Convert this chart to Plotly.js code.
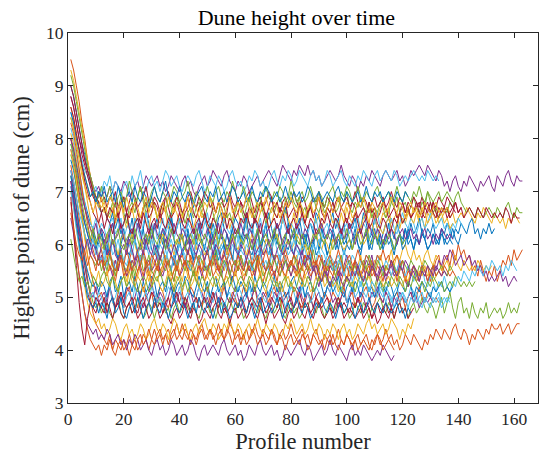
<!DOCTYPE html>
<html>
<head>
<meta charset="utf-8">
<script src="https://cdn.plot.ly/plotly-3.0.1.min.js"></script>
<style>html,body{margin:0;padding:0;background:#fff;}#chart{width:539px;height:457px;}</style>
</head>
<body>
<div id="chart"></div>
<script>
// Highest point of dune (cm) for each run, indexed by profile number 1..N
const h00=[9.0,8.8,8.5,8.2,7.9,7.7,7.4,7.2,7.0,6.9,6.7,6.6,6.7,6.5,6.4,6.6,6.3,6.5,6.2,6.4,6.6,6.3,6.1,6.4,6.5,6.2,6.3,6.6,6.4,6.1,6.3,6.5,6.2,6.0,6.3,6.4,6.6,6.2,6.3,6.5,6.1,6.2,6.4,6.6,6.3,6.0,6.2,6.4,6.5,6.3,6.1,6.4,6.2,6.5,6.6,6.3,6.2,6.0,6.3,6.5,6.4,6.1,6.3,6.6,6.4,6.2,6.5,6.3,6.0,6.2,6.4,6.6,6.3,6.1,6.4,6.2,6.5,6.7,6.4,6.3,6.1,6.3,6.5,6.2,6.0,6.3,6.4,6.2,6.6,6.5,6.3,6.1,6.2,6.4,6.6,6.3,6.5,6.2,6.0,6.1,6.4,6.3,6.5,6.2,6.3,6.6,6.4,6.1,6.2,6.5,6.3,6.0,6.2,6.4,6.5,6.3,6.1,6.4,6.2,6.0,6.3,6.1,6.4,6.2,6.3,6.5,6.2,6.1,6.3,6.2,6.4,6.1,6.0,6.3,6.2,6.4,6.3,6.1,6.3,6.2,6.4,6.3,6.2,6.4,6.5,6.2,6.3,6.1,6.3,6.2,6.4,6.2,6.3];
const h01=[9.5,9.3,9.0,8.7,8.3,8.0,7.6,7.3,7.0,6.7,6.4,6.2,6.0,5.9,5.8,5.6,5.7,5.5,5.8,5.6,5.4,5.7,5.9,5.6,5.5,5.7,5.8,5.6,5.4,5.6,5.9,5.7,5.5,5.6,5.8,5.7,5.5,5.3,5.6,5.8,5.6,5.7,5.5,5.8,5.6,5.4,5.7,5.9,5.6,5.5,5.7,5.6,5.8,5.5,5.7,5.9,5.6,5.4,5.6,5.7,5.5,5.8,5.6,5.7,5.5,5.6,5.8,5.6,5.4,5.7,5.5,5.6,5.9,5.7,5.6,5.4,5.6,5.8,5.5,5.7,5.6,5.4,5.7,5.5,5.8,5.6,5.5,5.7,5.4,5.6,5.8,5.5,5.3,5.6,5.5,5.7,5.4,5.6,5.5,5.3,5.6,5.4,5.7,5.5,5.4,5.6,5.3,5.5,5.7,5.4,5.6,5.5,5.3,5.6,5.5,5.4,5.6,5.3,5.5,5.7,5.4,5.2,5.5,5.6,5.4,5.3,5.5,5.4,5.6,5.3,5.5,5.7,5.8,5.5,5.7,5.8,5.6,5.9,5.7,6.0,5.8,5.9,5.7,5.8,5.5,5.6,5.4,5.7,5.5,5.3,5.5,5.4,5.6,5.3,5.5,5.7,5.6,5.8,5.6,5.9,5.7,5.8,5.9];
const h02=[9.3,9.1,8.8,8.5,8.2,7.9,7.6,7.3,7.1,6.9,6.8,6.7,6.8,6.6,6.5,6.7,6.4,6.6,6.8,6.5,6.3,6.6,6.7,6.4,6.6,6.5,6.7,6.4,6.3,6.6,6.8,6.5,6.4,6.7,6.6,6.3,6.5,6.7,6.6,6.4,6.5,6.8,6.6,6.4,6.3,6.5,6.7,6.5,6.6,6.4,6.2,6.5,6.6,6.8,6.5,6.4,6.6,6.3,6.5,6.7,6.6,6.4,6.5,6.3,6.6,6.7,6.5,6.4,6.6,6.8,6.5,6.3,6.4,6.6,6.5,6.7,6.4,6.6,6.5,6.3,6.6,6.4,6.7,6.5,6.4,6.6,6.8,6.5,6.4,6.6,6.3,6.5,6.7,6.6,6.4,6.5,6.3,6.6,6.4,6.7,6.5,6.4,6.6,6.5,6.3,6.5,6.6,6.4,6.7,6.5,6.3,6.4,6.6,6.5,6.7,6.4,6.5,6.6,6.3,6.5,6.4,6.6,6.5,6.7,6.6,6.4,6.5,6.3,6.6,6.5,6.7,6.6,6.4,6.5,6.6,6.7,6.5,6.6,6.4,6.5,6.6,6.5,6.7,6.6,6.5,6.4,6.6,6.5,6.7,6.6,6.5,6.4,6.6,6.5,6.4,6.5,6.3,6.5,6.4,6.6,6.5,6.4];
const h03=[8.8,8.6,8.3,8.0,7.8,7.6,7.4,7.3,7.1,7.0,7.1,6.9,7.0,6.9,7.1,7.0,7.2,7.1,7.0,7.2,7.1,6.9,7.0,7.1,7.2,7.0,7.1,7.3,7.2,7.1,7.2,7.3,7.1,7.2,7.0,7.1,7.3,7.2,7.1,7.0,7.2,7.3,7.1,7.2,7.0,6.9,7.1,7.2,7.3,7.1,7.2,7.4,7.3,7.2,7.1,7.3,7.4,7.2,7.1,7.0,7.2,7.1,7.3,7.2,7.0,7.1,7.2,7.3,7.1,7.2,7.3,7.4,7.3,7.2,7.1,7.3,7.5,7.4,7.3,7.2,7.4,7.3,7.5,7.4,7.3,7.5,7.3,7.4,7.2,7.3,7.1,7.2,7.3,7.4,7.3,7.2,7.3,7.5,7.3,7.2,7.1,7.3,7.2,7.0,7.2,7.1,7.3,7.2,7.4,7.3,7.2,7.1,7.3,7.4,7.3,7.2,7.3,7.4,7.2,7.3,7.1,7.2,7.4,7.3,7.4,7.5,7.4,7.3,7.5,7.4,7.3,7.2,7.4,7.3,7.1,7.2,7.0,7.2,7.3,7.1,7.0,7.2,7.1,7.3,7.2,7.1,7.0,7.2,7.1,7.2,7.3,7.1,7.0,7.3,7.2,7.1,7.3,7.4,7.2,7.1,7.3,7.2,7.2];
const h04=[9.2,9.0,8.7,8.4,8.1,7.8,7.5,7.3,7.1,6.9,6.8,6.6,6.7,6.5,6.6,6.8,6.5,6.7,6.9,6.6,6.4,6.7,6.8,6.6,6.9,7.1,6.8,6.6,6.7,6.9,6.7,6.5,6.6,6.8,6.7,6.5,6.6,6.8,6.9,6.7,6.6,6.4,6.6,6.7,6.5,6.7,6.8,6.6,6.5,6.7,6.9,6.6,6.4,6.6,6.8,6.7,6.5,6.6,6.4,6.6,6.8,6.7,6.5,6.7,6.9,6.6,6.5,6.7,6.8,6.6,6.4,6.5,6.7,6.6,6.8,6.9,6.7,6.6,6.8,7.0,6.8,6.7,6.9,6.6,6.7,6.5,6.8,6.9,6.7,6.6,6.8,6.6,6.7,6.9,6.8,6.6,6.7,6.9,6.8,7.0,6.7,6.6,6.8,6.7,6.9,6.7,6.6,6.8,6.5,6.7,6.6,6.8,6.7,6.5,6.6,6.8,6.7,6.9,6.6,6.7,6.8,6.6,6.7,6.9,6.7,6.6,6.8,6.7,7.0,6.8,6.6,6.7,6.5,6.6,6.7,6.6,6.8,6.7,6.9,7.0,6.8,6.7,6.6,6.7,6.6,6.5,6.7,6.6,6.5,6.6,6.7,6.6,6.5,6.7,6.6,6.5,6.7,6.8,6.6,6.5,6.7,6.6,6.6];
const h05=[8.5,8.3,8.0,7.8,7.6,7.4,7.3,7.1,7.0,7.1,6.9,7.0,7.2,7.1,7.3,7.0,7.2,7.1,6.9,7.1,7.2,7.0,7.3,7.1,7.2,7.4,7.1,7.0,7.2,7.3,7.1,7.2,7.0,7.2,7.4,7.3,7.1,7.2,7.3,7.1,7.0,7.2,7.3,7.2,7.1,7.3,7.4,7.2,7.0,7.1,7.3,7.2,7.1,7.3,7.2,7.0,7.1,7.3,7.4,7.2,7.1,7.2,7.0,7.1,7.3,7.2,7.4,7.3,7.1,7.2,7.0,7.1,7.3,7.4,7.2,7.1,7.3,7.2,7.4,7.3,7.1,7.2,7.4,7.3,7.2,7.1,7.3,7.4,7.2,7.3,7.1,7.2,7.4,7.3,7.1,7.2,7.3,7.4,7.2,7.1,7.3,7.2,7.1,7.3,7.2,7.4,7.3,7.2,7.1,7.3,7.4,7.2,7.3,7.4,7.3,7.2,7.4,7.3,7.1,7.2,7.3,7.2,7.3,7.4,7.3,7.2,7.3,7.2,7.4,7.3,7.2,7.3,7.2];
const h06=[9.0,8.8,8.5,8.2,7.9,7.6,7.4,7.2,7.0,6.9,6.8,6.6,6.7,6.5,6.7,6.6,6.8,6.5,6.7,6.9,6.6,6.5,6.7,6.8,6.6,6.4,6.7,6.8,6.5,6.6,6.8,6.7,6.5,6.6,6.9,6.7,6.5,6.6,6.8,6.6,6.4,6.6,6.7,6.9,6.6,6.5,6.7,6.8,6.6,6.4,6.5,6.7,6.6,6.8,6.7,6.5,6.6,6.9,6.7,6.5,6.6,6.8,6.6,6.5,6.7,6.6,6.4,6.6,6.8,6.7,6.5,6.7,6.9,6.6,6.5,6.7,6.6,6.8,6.5,6.6,6.7,6.5,6.8,6.6,6.4,6.6,6.7,6.5,6.7,6.9,6.6,6.5,6.7,6.6,6.8,6.6,6.5,6.7,6.6,6.4,6.6,6.8,6.7,6.5,6.6,6.7,6.5,6.8,6.6,6.7,6.5,6.6,6.8,6.7,6.5,6.6,6.7,6.5,6.6,6.8,6.6,6.7,6.5,6.6,6.7,6.8,6.6,6.5,6.7,6.6,6.8,6.6,6.5,6.7,6.6,6.7,6.5,6.6,6.8,6.6,6.7,6.5,6.6,6.7,6.6,6.5,6.7,6.6,6.5,6.7,6.6,6.5,6.6,6.5,6.6,6.5,6.7,6.6,6.4,6.6,6.5,6.5];
const h07=[8.0,7.8,7.5,7.3,7.0,6.8,6.6,6.4,6.3,6.1,6.0,6.2,5.9,6.0,5.8,6.1,5.9,5.7,6.0,6.2,5.9,5.8,6.0,6.1,5.8,5.7,5.9,6.1,6.2,5.9,5.8,6.0,5.7,5.9,6.1,6.0,5.8,5.6,5.9,6.1,5.8,6.0,6.2,5.9,5.7,5.8,6.0,6.1,5.9,5.8,6.0,6.2,5.9,5.7,5.9,6.0,5.8,6.1,6.3,6.0,5.8,5.9,6.1,6.2,5.9,5.8,6.0,5.7,5.9,6.1,6.0,5.8,6.0,6.2,6.1,5.9,5.8,6.0,5.9,6.1,6.3,6.0,5.9,5.8,6.0,6.2,5.9,6.1,5.8,5.9,6.1,6.0,5.8,6.0,6.2,5.9,6.1,6.0,5.8,6.0,6.1,5.9,6.2,6.0,5.9,6.1,6.3,6.0,5.9,6.2,6.1,5.9,6.0,6.2,6.0,6.1,5.9,6.0,6.2,6.1,6.3,6.0,6.1,5.9,6.1,6.0,6.2,6.1,5.9,6.0,6.2,6.1,6.0,6.2,6.1,6.0,6.1,6.3,6.1,6.0,6.2];
const h08=[7.5,7.2,6.9,6.5,6.1,5.7,5.3,5.0,4.7,4.5,4.4,4.3,4.2,4.1,4.3,4.0,4.2,4.1,4.0,4.2,4.1,3.9,4.1,4.2,4.0,4.1,4.3,4.2,4.0,4.2,4.4,4.2,4.3,4.1,4.3,4.4,4.2,4.3,4.5,4.3,4.2,4.4,4.3,4.1,4.3,4.2,4.4,4.5,4.3,4.2,4.4,4.3,4.1,4.3,4.4,4.2,4.3,4.5,4.4,4.2,4.3,4.1,4.3,4.4,4.2,4.3,4.5,4.3,4.2,4.4,4.3,4.2,4.4,4.3,4.1,4.3,4.4,4.2,4.3,4.5,4.3,4.2,4.3,4.4,4.2,4.3,4.1,4.3,4.4,4.2,4.1,4.3,4.2,4.3,4.1,4.2,4.4,4.2,4.1,4.3,4.2,4.0,4.2,4.3,4.1,4.2,4.3,4.1,4.0,4.2,4.3,4.1,4.2,4.4,4.2,4.3,4.1,4.2,4.0,4.1,4.3,4.2,4.1,4.3,4.2,4.1,4.0,4.2,4.1,4.3,4.2,4.4,4.3,4.2,4.4,4.3,4.2,4.4,4.5,4.3,4.2,4.4,4.3,4.1,4.3,4.2,4.4,4.3,4.2,4.4,4.3,4.5,4.4,4.4,4.5,4.3,4.4,4.5,4.3,4.4,4.5,4.5];
const h09=[8.6,8.4,8.1,7.8,7.4,7.1,6.8,6.5,6.2,6.0,5.8,5.7,5.6,5.8,5.5,5.7,5.4,5.6,5.8,5.5,5.3,5.6,5.7,5.5,5.4,5.6,5.8,5.5,5.3,5.5,5.7,5.6,5.4,5.6,5.8,5.6,5.4,5.5,5.7,5.5,5.3,5.6,5.4,5.7,5.5,5.3,5.5,5.7,5.6,5.4,5.6,5.8,5.5,5.4,5.6,5.5,5.7,5.4,5.3,5.5,5.7,5.6,5.4,5.5,5.7,5.5,5.4,5.6,5.8,5.5,5.3,5.5,5.6,5.4,5.6,5.7,5.5,5.3,5.6,5.4,5.6,5.8,5.5,5.6,5.4,5.5,5.7,5.6,5.4,5.5,5.3,5.6,5.5,5.7,5.5,5.4,5.6,5.7,5.5,5.3,5.5,5.6,5.4,5.6,5.8,5.5,5.6,5.4,5.5,5.7,5.6,5.8,5.6,5.5,5.7,5.9,5.6,5.8,5.7,5.9,6.0,5.8,5.7,5.9,5.7,5.8,5.6,5.8,5.9,5.7,5.6,5.8,5.7,5.5,5.6,5.7,5.5,5.6,5.8,5.6,5.5,5.7,5.6,5.5,5.6,5.5,5.7,5.6,5.5,5.6,5.5,5.6];
const h10=[7.8,7.6,7.3,7.0,6.7,6.4,6.2,6.0,5.8,5.7,5.6,5.8,5.5,5.7,5.6,5.4,5.7,5.5,5.8,5.6,5.4,5.5,5.7,5.6,5.8,5.5,5.3,5.6,5.7,5.5,5.6,5.8,5.5,5.4,5.6,5.7,5.5,5.8,5.6,5.4,5.5,5.7,5.6,5.5,5.7,5.8,5.6,5.4,5.6,5.5,5.7,5.9,5.6,5.5,5.4,5.6,5.7,5.5,5.3,5.6,5.8,5.6,5.5,5.7,5.5,5.6,5.4,5.7,5.9,5.6,5.5,5.7,5.6,5.4,5.6,5.8,5.5,5.7,5.6,5.4,5.6,5.5,5.7,5.9,5.6,5.5,5.3,5.6,5.4,5.2,5.5,5.7,5.4,5.6,5.5,5.7,5.6,5.4,5.6,5.8,5.6,5.5,5.7,5.6,5.4,5.5,5.7,5.6,5.8,5.5,5.4,5.6,5.5,5.3,5.5,5.6,5.4,5.5,5.7,5.5,5.3,5.2,5.4,5.5,5.3,5.4,5.6,5.5,5.3,5.4,5.6,5.5,5.7,5.6,5.8,5.7,5.9,5.8,5.6,5.7,5.8,5.6,5.7,5.8,5.6,5.7,5.5,5.6,5.4,5.5,5.3,5.4,5.3,5.4,5.5,5.3,5.4,5.2,5.3,5.4,5.3];
const h11=[7.3,7.0,6.7,6.3,5.9,5.6,5.3,5.1,4.9,4.8,4.9,4.7,4.8,4.9,4.7,4.6,4.8,5.0,4.7,4.6,4.8,4.9,4.7,4.8,5.0,4.8,4.6,4.7,4.9,4.8,4.6,4.8,5.0,4.9,4.7,4.8,4.6,4.8,4.9,4.7,4.8,5.0,4.8,4.7,4.9,4.7,4.6,4.8,5.0,4.9,4.7,4.8,4.6,4.8,4.9,4.7,4.8,5.0,4.8,4.7,4.9,4.8,4.6,4.7,4.9,5.0,4.8,4.7,4.9,4.7,4.6,4.8,4.9,4.7,4.8,5.0,4.7,4.6,4.8,4.9,4.7,4.8,4.6,4.7,4.9,4.8,5.0,4.8,4.7,4.9,4.8,4.6,4.8,4.9,4.7,4.8,5.0,4.9,4.7,4.8,4.6,4.7,4.9,4.8,4.7,4.9,4.8,4.6,4.8,4.7,4.9,5.0,4.8,4.7,4.9,4.8,4.6,4.8,4.9,4.7,4.8,4.6,4.8,4.9,4.7,4.8,5.0,4.8,4.7,4.9,4.8,4.6,4.8,5.0,4.7,4.9,5.1,4.8,4.6,4.9,5.0,4.7,4.8,4.6,4.9,4.7,4.6,4.8,4.7,4.9,4.6,4.7,4.8,4.7,4.8,4.6,4.7,4.9,4.7,4.8,4.7,4.9];
const h12=[8.2,8.0,7.7,7.4,7.1,6.8,6.5,6.3,6.1,5.9,5.8,5.7,5.9,5.6,5.8,5.7,5.5,5.8,5.9,5.7,5.6,5.8,5.5,5.7,5.9,5.6,5.8,5.7,5.5,5.7,5.9,5.8,5.6,5.7,5.9,5.7,5.5,5.8,5.6,5.7,5.9,5.8,5.6,5.5,5.7,5.8,5.6,5.9,5.7,5.5,5.6,5.8,5.7,5.9,5.6,5.7,5.5,5.7,5.8,5.6,5.9,5.7,5.6,5.8,5.7,5.5,5.7,5.9,5.8,5.6,5.7,5.5,5.8,5.7,5.6,5.8,5.9,5.7,5.5,5.6,5.8,5.7,5.9,5.6,5.7,5.8,5.6,5.5,5.7,5.9,5.7,5.6,5.8,5.7,5.5,5.7,5.8,5.6,5.9,5.7,5.6,5.8,5.7,5.5,5.7,5.6,5.8,5.7,5.5,5.6,5.8,5.6,5.5,5.7,5.6,5.4,5.6,5.5,5.7,5.5,5.4,5.6,5.5,5.3,5.5,5.4,5.6,5.3,5.2,5.4,5.3,5.1,5.3,5.2,5.4,5.2,5.1,5.3,5.2,5.4,5.3,5.5,5.4,5.3,5.5,5.4,5.6,5.5,5.4,5.6,5.5,5.7,5.6,5.5,5.6,5.4,5.6,5.5,5.7,5.6,5.5];
const h13=[8.8,8.6,8.3,8.0,7.7,7.5,7.3,7.1,6.9,6.8,7.0,6.8,6.9,6.7,6.9,6.8,7.0,6.7,6.8,6.9,6.6,6.8,7.0,6.9,6.7,6.8,6.9,7.1,6.8,6.7,6.9,6.8,6.6,6.8,6.9,7.0,6.8,6.7,6.9,6.8,6.6,6.7,6.9,7.0,6.8,6.7,6.9,6.8,7.0,6.9,6.7,6.8,6.6,6.8,6.9,6.7,6.8,7.0,6.8,6.7,6.9,6.8,6.7,6.9,7.0,6.8,6.6,6.8,6.9,6.7,6.8,7.0,6.9,6.7,6.8,6.6,6.8,6.9,6.7,6.8,7.0,6.8,6.7,6.9,6.8,6.6,6.7,6.9,6.8,7.0,6.8,6.7,6.9,6.8,6.6,6.8,6.9,6.7,6.8,6.9,6.7,6.8,7.0,6.8,6.7,6.9,6.8,6.6,6.8,6.9,6.7,6.8,6.9,6.7,6.8,7.0,6.8,6.7,6.9,6.8,6.6,6.8,6.7,6.9,6.8,6.7,6.9,6.7,6.8,6.6,6.8,6.7,6.9,6.8,6.7,6.9,6.8,6.7,6.8,6.6,6.7];
const h14=[7.6,7.4,7.1,6.8,6.6,6.4,6.2,6.0,6.2,5.9,6.1,6.3,6.0,5.8,6.2,6.4,6.0,5.7,6.1,6.3,5.9,6.2,6.5,6.1,5.8,6.0,6.3,5.9,6.1,6.4,6.0,5.8,6.1,6.3,5.9,6.2,6.5,6.1,5.8,6.0,6.2,5.9,6.3,6.0,5.7,6.1,6.4,6.0,5.9,6.2,6.4,6.1,5.8,6.0,6.3,5.9,6.2,6.0,5.7,6.1,6.3,6.0,6.2,6.5,6.1,5.9,6.0,6.3,5.8,6.1,6.4,6.0,5.8,6.2,6.0,6.3,5.9,6.1,6.4,6.0,5.8,6.1,6.3,5.9,6.2,6.0,5.7,6.0,6.2,5.9,6.3,6.1,5.8,6.0,6.3,6.1,5.9,6.2,6.4,6.0,5.9,6.1,6.3,6.0,5.8,6.1,6.2,5.9,6.1,6.3,6.0,6.2,5.9,6.1,6.4,6.0,5.8,6.1,6.2,5.9,6.0,6.3,6.1,5.9,6.2,6.0,6.3,6.1,5.9,6.0,6.2,6.0,6.1,6.3,6.0,6.2,6.1,6.0];
const h15=[8.0,7.7,7.3,6.9,6.5,6.1,5.8,5.5,5.3,5.1,5.0,5.1,4.9,5.0,5.2,4.9,4.8,5.1,5.0,4.8,5.1,5.2,4.9,5.0,4.8,5.1,5.2,5.0,4.9,5.1,4.8,5.0,5.2,5.1,4.9,4.8,5.0,5.2,5.0,4.9,5.1,4.8,5.0,5.2,5.1,4.9,5.0,4.8,5.1,5.2,4.9,5.0,5.1,4.8,5.0,5.2,5.0,4.9,5.1,5.0,4.8,5.0,5.2,5.1,4.9,5.0,5.2,4.9,4.8,5.0,5.1,4.9,5.1,5.2,5.0,4.8,5.0,5.1,4.9,5.0,5.2,5.1,4.9,4.8,5.0,5.1,4.9,5.2,5.0,4.8,4.9,5.1,5.0,4.9,5.1,5.0,4.8,5.0,5.2,4.9,5.0,5.1,4.8,5.0,4.9,5.1,5.2,5.0,4.8,4.9,5.1,5.0,4.9,5.1,5.0,4.8,5.0,5.1,4.9,5.0,4.8,5.0,5.1,4.9,5.0,5.2,5.0,4.9,5.1,5.0,4.9,5.0,4.9];
const h16=[7.0,6.7,6.3,5.9,5.5,5.2,4.9,4.7,4.6,4.5,4.6,4.4,4.5,4.3,4.4,4.6,4.5,4.3,4.2,4.4,4.5,4.3,4.4,4.2,4.3,4.5,4.4,4.2,4.3,4.5,4.6,4.4,4.3,4.5,4.4,4.2,4.4,4.6,4.5,4.3,4.4,4.5,4.3,4.2,4.4,4.5,4.3,4.5,4.6,4.4,4.3,4.5,4.4,4.2,4.3,4.5,4.4,4.6,4.4,4.3,4.5,4.4,4.2,4.4,4.5,4.3,4.4,4.6,4.4,4.3,4.5,4.4,4.3,4.5,4.4,4.2,4.3,4.5,4.4,4.6,4.5,4.3,4.4,4.5,4.3,4.4,4.6,4.4,4.3,4.5,4.4,4.2,4.4,4.3,4.5,4.4,4.2,4.4,4.5,4.3,4.4,4.2,4.3,4.5,4.4,4.3,4.5,4.6,4.4,4.5,4.3,4.4,4.5,4.3,4.4,4.6,4.5,4.4,4.2,4.4,4.3,4.5,4.4,4.6];
const h17=[6.5,6.2,5.8,5.4,5.0,4.7,4.5,4.4,4.3,4.4,4.2,4.3,4.2,4.4,4.3,4.1,4.2,4.3,4.1,4.2,4.0,4.2,4.1,4.3,4.2,4.0,4.1,4.2,4.0,3.9,4.1,4.2,4.0,4.1,3.9,4.0,4.2,4.1,3.9,4.0,4.1,3.9,4.0,4.2,4.1,3.9,3.8,4.0,4.1,3.9,4.0,4.1,4.0,3.9,4.1,4.2,4.0,3.9,4.0,4.1,3.9,4.0,3.8,3.9,4.1,4.0,3.9,4.1,4.2,4.0,3.9,4.0,4.1,3.9,4.0,3.8,3.9,4.1,4.0,3.9,4.0,4.1,4.2,4.0,3.9,4.1,4.0,3.8,3.9,4.0,4.1,3.9,4.0,4.2,4.0,3.9,4.1,4.0,3.9,3.8,4.0,4.1,3.9,4.0,3.9,4.1,4.0,3.9,3.8,3.9,4.0,3.9,4.1,4.0,3.9,3.8,3.9];
const h18=[8.4,8.2,7.9,7.7,7.5,7.3,7.1,6.9,7.0,6.8,6.9,7.1,6.8,6.9,7.1,6.8,6.7,6.9,7.0,6.8,6.9,7.2,7.0,6.8,6.9,7.1,6.9,6.7,6.8,7.0,7.1,6.9,6.8,7.0,6.9,6.7,6.9,7.1,7.0,6.8,6.9,7.0,7.2,6.9,6.8,7.0,6.9,6.7,6.9,7.1,6.9,6.8,7.0,7.1,6.9,6.8,7.0,6.9,7.2,7.0,6.8,6.9,7.1,6.9,6.8,7.0,6.9,6.7,6.8,7.0,7.1,6.9,6.8,7.0,6.9,7.1,7.0,6.8,6.9,7.2,7.0,6.8,6.9,7.0,6.8,6.9,7.1,6.9,6.8,7.0,6.9,6.7,6.9,7.0,7.1,6.9,6.8,7.0,6.9,7.1,7.0,6.8,6.9,7.1,6.9,6.8,7.0,6.9,6.8,7.0,7.1,6.9,6.8,6.9,7.0,6.8,6.9,7.1,6.9,6.8,7.0,6.9,6.8,7.0,6.9,7.1,6.9,6.8,7.0,6.9,6.8,6.9,7.0,6.8,6.9,7.0,6.9,6.8];
const h19=[7.9,7.7,7.4,7.2,6.9,6.7,6.5,6.4,6.3,6.5,6.2,6.4,6.3,6.1,6.4,6.5,6.2,6.3,6.5,6.1,6.3,6.4,6.2,6.5,6.3,6.1,6.4,6.6,6.3,6.2,6.4,6.1,6.3,6.5,6.2,6.4,6.3,6.1,6.3,6.5,6.4,6.2,6.4,6.3,6.1,6.3,6.5,6.2,6.4,6.6,6.3,6.2,6.4,6.1,6.3,6.5,6.3,6.2,6.4,6.3,6.1,6.4,6.5,6.3,6.2,6.4,6.1,6.3,6.5,6.2,6.4,6.3,6.1,6.3,6.4,6.2,6.5,6.3,6.2,6.4,6.3,6.1,6.4,6.5,6.3,6.2,6.4,6.3,6.5,6.2,6.1,6.3,6.4,6.2,6.3,6.5,6.3,6.1,6.3,6.4,6.2,6.4,6.3,6.5,6.2,6.4,6.3,6.1,6.3,6.4,6.6,6.3,6.2,6.4,6.3,6.5,6.3,6.2,6.4,6.6,6.4,6.3,6.5,6.4,6.2,6.4,6.5,6.3,6.4,6.6,6.4,6.3,6.4,6.5,6.3,6.4,6.2,6.4,6.3,6.5,6.4,6.3];
const h20=[7.2,6.9,6.5,6.1,5.7,5.4,5.1,4.9,4.8,4.7,4.9,4.8,4.7,4.9,4.8,4.6,4.8,4.9,4.7,4.6,4.8,4.9,4.7,4.8,4.6,4.7,4.9,4.8,4.6,4.7,4.9,4.8,4.6,4.7,4.8,4.6,4.5,4.7,4.8,4.6,4.7,4.9,4.7,4.6,4.8,4.7,4.5,4.6,4.8,4.7,4.6,4.8,4.9,4.7,4.6,4.8,4.7,4.5,4.7,4.8,4.6,4.7,4.8,4.6,4.7,4.9,4.7,4.6,4.8,4.7,4.5,4.7,4.8,4.6,4.7,4.8,4.6,4.5,4.7,4.8,4.6,4.7,4.9,4.7,4.6,4.8,4.7,4.6,4.8,4.9,4.7,4.6,4.7,4.8,4.6,4.7,4.9,4.8,4.6,4.7,4.8,4.7,4.6,4.7,4.8,4.6,4.7,4.8,4.6,4.7,4.5,4.6,4.8,4.7,4.6,4.8,4.7];
const h21=[8.5,8.3,8.0,7.8,7.5,7.3,7.1,6.9,7.0,6.8,7.0,6.9,7.1,6.8,6.9,7.0,6.8,7.1,6.9,6.7,6.9,7.0,6.8,7.1,6.9,6.8,7.0,6.9,6.7,6.9,7.1,6.9,6.8,7.0,7.2,6.9,6.8,7.0,6.9,7.1,6.9,6.8,7.0,6.9,6.7,6.9,7.0,7.1,6.9,6.8,7.0,6.9,7.1,6.8,6.9,7.0,6.8,6.9,7.1,7.0,6.8,6.9,7.0,6.8,6.9,7.1,6.9,6.8,7.0,6.9,7.1,7.0,6.8,6.9,7.0,6.8,6.9,7.1,6.9,6.8,7.0,6.9,7.0,6.8,6.9,7.1,7.0,6.8,6.9,7.0,6.8,6.9,7.0,6.9,6.8,7.0,7.1,6.9,6.8,7.0,6.9,6.8,6.9,7.0,6.8,6.9,7.1,6.9,6.8,7.0,6.9,7.0,6.8,6.9,7.0,6.9,6.8,7.0,6.9,6.8,7.0,6.9];
const h22=[6.8,6.4,5.9,5.4,5.0,4.7,4.4,4.2,4.1,4.0,4.1,3.9,4.1,4.0,4.2,4.0,3.9,4.1,4.2,4.0,4.1,4.3,4.1,4.0,4.2,4.3,4.1,4.2,4.4,4.2,4.1,4.3,4.4,4.2,4.3,4.1,4.3,4.4,4.2,4.3,4.5,4.3,4.2,4.4,4.3,4.1,4.3,4.4,4.2,4.3,4.4,4.2,4.3,4.5,4.3,4.2,4.4,4.3,4.1,4.3,4.4,4.2,4.3,4.1,4.2,4.4,4.3,4.1,4.2,4.3,4.1,4.2,4.4,4.2,4.1,4.3,4.2,4.0,4.2,4.3,4.1,4.2,4.1,4.3,4.2,4.0,4.1,4.3,4.2,4.1,4.2,4.0,4.2,4.1,4.3,4.1,4.0,4.2,4.1,4.3,4.2,4.1,4.2,4.0,4.1,4.2,4.1,4.0,4.2,4.1,4.3,4.2,4.0,4.1,4.2,4.1,4.0];
const h23=[8.1,7.9,7.6,7.3,7.0,6.7,6.5,6.3,6.1,6.0,6.2,5.9,6.0,6.2,5.9,6.1,6.0,5.8,6.1,6.2,5.9,6.0,6.2,6.0,5.8,6.1,5.9,6.0,6.2,6.1,5.9,5.8,6.0,6.2,6.1,5.9,6.0,5.8,6.1,6.0,6.2,5.9,5.8,6.0,6.1,5.9,6.2,6.0,5.8,5.9,6.1,6.0,6.2,5.9,6.0,6.1,5.8,6.0,6.2,6.0,5.9,6.1,6.0,5.8,6.0,6.2,6.1,5.9,6.0,5.8,6.1,6.0,5.9,6.1,6.2,6.0,5.8,6.0,6.1,5.9,6.0,6.2,6.1,5.9,6.0,5.8,6.0,6.1,6.2,6.0,5.9,6.1,6.0,5.8,6.1,6.0,6.2,6.0,5.9,6.0,6.1,5.9,6.1,6.3,6.2,6.0,6.1,6.3,6.4,6.2,6.1,6.3,6.2,6.4,6.5,6.3,6.2,6.4,6.6,6.4,6.5,6.7,6.5,6.4,6.6,6.5,6.7,6.6,6.4,6.5,6.6,6.4,6.5,6.6,6.4,6.5,6.3,6.4];
const h24=[7.4,7.1,6.7,6.3,5.9,5.6,5.3,5.1,5.0,5.2,4.9,5.0,5.1,4.9,5.2,5.0,4.8,5.0,5.1,4.9,5.2,5.1,4.9,5.0,5.2,4.9,4.8,5.0,5.1,5.3,5.0,4.9,5.1,5.0,4.8,5.0,5.2,5.0,4.9,5.1,5.0,4.8,5.0,5.1,4.9,5.0,5.2,5.1,4.9,5.0,4.8,5.0,5.1,4.9,5.1,5.3,5.0,4.9,5.0,5.2,5.0,4.8,5.0,5.1,4.9,5.0,5.2,5.0,4.9,5.1,5.0,4.8,4.9,5.1,5.0,5.2,4.9,5.0,5.1,4.9,4.8,5.0,5.2,5.0,4.9,5.1,5.0,4.8,5.0,5.1,4.9,5.0,5.2,5.1,4.9,5.0,4.8,5.0,5.1,4.9,5.0,5.2,5.0,4.9,5.1,5.0,4.8,4.9,5.1,5.0,5.2,5.0,4.9,5.1,5.0,4.8,5.0,4.9,5.1,5.0,4.9,5.0,5.1,4.9,5.0,4.8,4.9,5.0,4.9,5.0,4.9];
const h25=[7.7,7.5,7.1,6.8,6.5,6.2,6.0,5.8,5.7,5.6,5.8,5.5,5.7,5.5,5.8,5.6,5.4,5.7,5.9,5.6,5.5,5.7,5.6,5.4,5.7,5.8,5.5,5.6,5.8,5.5,5.4,5.6,5.8,5.6,5.5,5.7,5.5,5.3,5.6,5.8,5.6,5.5,5.7,5.6,5.4,5.6,5.8,5.7,5.5,5.6,5.4,5.7,5.9,5.6,5.5,5.7,5.6,5.4,5.6,5.7,5.5,5.8,5.6,5.4,5.7,5.6,5.5,5.8,5.6,5.4,5.5,5.7,5.6,5.8,5.5,5.4,5.6,5.7,5.5,5.6,5.8,5.6,5.4,5.6,5.7,5.5,5.6,5.9,5.6,5.5,5.7,5.6,5.5,5.7,5.6,5.4,5.6,5.8,5.5,5.6,5.7,5.5,5.6,5.4,5.6,5.7,5.5,5.8,5.6,5.5,5.7,5.6,5.4,5.6,5.5,5.7,5.6,5.4,5.5,5.7,5.6,5.5,5.7,5.6,5.4,5.6,5.5,5.7,5.6,5.5,5.6,5.4,5.5,5.6,5.5,5.4,5.6,5.5];
const h26=[7.0,6.7,6.3,5.9,5.6,5.3,5.1,5.0,5.1,4.9,5.1,5.0,4.8,5.1,5.2,4.9,5.0,5.2,4.9,4.8,5.0,5.1,4.9,5.2,5.0,4.8,5.0,5.1,4.9,5.2,5.1,4.9,5.0,4.8,5.0,5.2,5.1,4.9,5.0,5.2,4.9,5.0,5.1,4.9,4.8,5.0,5.2,5.0,4.9,5.1,5.0,4.9,5.1,5.2,5.0,4.8,5.0,5.1,4.9,5.0,5.2,5.1,4.9,5.0,5.2,5.0,4.8,5.0,5.1,5.0,4.9,5.1,5.2,5.0,4.9,5.1,5.0,4.8,5.0,5.2,5.1,4.9,5.0,5.2,5.0,5.1,4.9,5.0,5.2,5.1,4.9,5.0,5.2,5.1,5.3,5.1,5.0,5.2,5.1,4.9,5.1,5.2,5.0,5.1,5.3,5.1,5.0,5.2,5.0,5.1,5.3,5.1,5.0,5.2,5.1,4.9,5.1,5.2,5.0,5.1,4.9,5.0,5.2,5.1,4.9,5.0,5.1,4.9,5.0,5.1,4.9,5.0,5.1,4.9,5.0,4.9,5.0];
const h27=[6.9,6.3,5.6,4.9,4.4,4.1,4.6,4.9,4.8,5.0,4.9,4.8,5.0,4.7,4.9,5.0,4.8,4.9,5.1,4.9,4.8,4.9,5.0,4.8,4.7,4.9,5.0,4.8,4.9,5.1,5.0,4.8,4.9,4.7,4.9,5.0,4.8,4.9,5.1,4.9,4.8,5.0,4.9,4.7,4.9,5.0,4.8,4.9,5.0,4.8,4.9,5.1,4.9,4.8,5.0,4.9,4.7,4.8,5.0,4.9,4.8,5.0,4.9,4.7,4.9,5.0,4.9,4.8,5.0,4.9,4.7,4.8,5.0,4.9,4.8,5.0,4.9,4.7,4.9,5.0,4.8,4.9,5.1,4.9,4.8,4.9,4.7,4.8,5.0,4.9,4.8,4.9,5.0,4.8,4.7,4.9,5.0,4.8,4.9,4.8,4.7,4.9,4.8,5.0,4.8,4.7,4.9,4.8,4.6,4.8,4.9,4.7,4.8,4.9,4.7,4.8,4.6,4.8,4.9,4.7,4.8,4.6,4.7,4.8];
const h28=[7.3,7.0,6.7,6.3,6.0,5.7,5.5,5.3,5.2,5.3,5.1,5.3,5.2,5.0,5.3,5.4,5.1,5.2,5.4,5.0,5.2,5.3,5.1,5.4,5.2,5.0,5.3,5.1,5.2,5.4,5.3,5.0,5.2,5.3,5.1,5.4,5.2,5.0,5.2,5.3,5.1,5.4,5.3,5.1,5.0,5.2,5.4,5.2,5.1,5.3,5.0,5.2,5.4,5.1,5.2,5.3,5.0,5.2,5.4,5.2,5.1,5.3,5.2,5.0,5.3,5.1,5.4,5.2,5.1,5.3,5.2,5.0,5.2,5.4,5.1,5.3,5.2,5.0,5.1,5.3,5.4,5.2,5.1,5.3,5.0,5.2,5.3,5.1,5.2,5.4,5.2,5.0,5.2,5.3,5.1,5.2,5.4,5.1,5.0,5.2,5.3,5.1,5.3,5.2,5.0,5.2,5.3,5.1,5.2,5.0,5.1,5.3,5.2,5.1,5.3,5.2,5.0,5.1,5.3,5.2,5.1,5.3,5.2,5.0,5.2,5.1,5.3,5.2,5.1,5.0,5.2,5.1,5.2,5.3,5.1,5.2,5.1,5.2];
const h29=[8.3,8.1,7.8,7.4,7.1,6.7,6.4,6.1,5.9,5.7,5.6,5.7,5.5,5.4,5.6,5.5,5.3,5.6,5.7,5.4,5.5,5.7,5.4,5.3,5.5,5.6,5.4,5.7,5.5,5.3,5.5,5.6,5.4,5.5,5.7,5.4,5.3,5.5,5.6,5.4,5.6,5.7,5.5,5.3,5.5,5.4,5.6,5.5,5.3,5.5,5.7,5.4,5.5,5.6,5.4,5.3,5.5,5.7,5.5,5.4,5.6,5.5,5.3,5.5,5.6,5.4,5.5,5.7,5.4,5.3,5.5,5.6,5.4,5.5,5.3,5.6,5.5,5.4,5.6,5.7,5.5,5.4,5.5,5.3,5.5,5.6,5.4,5.5,5.7,5.5,5.3,5.4,5.6,5.5,5.4,5.6,5.5,5.3,5.5,5.6,5.4,5.5,5.7,5.4,5.5,5.3,5.5,5.6,5.4,5.5,5.3,5.5,5.6,5.4,5.5,5.7,5.5,5.4,5.6,5.5,5.3,5.5,5.4,5.6,5.5,5.4,5.6,5.5,5.3,5.5,5.6,5.4,5.5,5.4,5.6,5.5,5.4,5.5,5.4];
const h30=[7.8,7.5,7.2,6.8,6.5,6.1,5.8,5.5,5.4,5.3,5.5,5.2,5.3,5.5,5.2,5.4,5.3,5.1,5.3,5.4,5.2,5.5,5.3,5.2,5.4,5.3,5.1,5.3,5.5,5.2,5.3,5.4,5.2,5.1,5.3,5.5,5.3,5.2,5.4,5.3,5.1,5.3,5.4,5.2,5.3,5.5,5.2,5.1,5.3,5.4,5.3,5.2,5.4,5.3,5.1,5.3,5.4,5.2,5.3,5.5,5.3,5.2,5.3,5.1,5.3,5.4,5.2,5.3,5.5,5.2,5.1,5.3,5.4,5.3,5.2,5.3,5.1,5.3,5.4,5.2,5.3,5.5,5.3,5.2,5.4,5.3,5.1,5.2,5.4,5.3,5.5,5.2,5.3,5.4,5.2,5.3,5.1,5.3,5.2,5.4,5.3,5.2,5.4,5.3,5.5,5.2,5.3,5.4,5.2,5.1,5.3,5.4,5.2,5.3,5.4,5.2,5.3,5.5,5.3,5.2,5.4,5.3,5.5,5.4,5.3,5.5,5.4,5.6,5.4,5.5,5.3,5.4];
const h31=[8.0,7.8,7.5,7.2,6.9,6.7,6.5,6.3,6.2,6.4,6.1,6.3,6.2,6.0,6.3,6.4,6.1,6.2,6.4,6.1,6.0,6.2,6.3,6.1,6.4,6.2,6.0,6.2,6.3,6.1,6.4,6.2,6.1,6.3,6.2,6.0,6.2,6.4,6.2,6.1,6.3,6.2,6.0,6.2,6.3,6.1,6.4,6.2,6.1,6.3,6.2,6.0,6.2,6.4,6.1,6.3,6.2,6.0,6.1,6.3,6.2,6.4,6.2,6.1,6.3,6.2,6.0,6.2,6.4,6.1,6.2,6.3,6.1,6.2,6.4,6.2,6.0,6.2,6.3,6.1,6.2,6.4,6.2,6.1,6.3,6.2,6.0,6.1,6.3,6.2,6.4,6.2,6.1,6.3,6.2,6.0,6.2,6.3,6.1,6.2,6.4,6.2,6.0,6.2,6.3,6.1,6.2,6.4,6.2,6.1,6.3,6.2,6.0,6.2,6.1,6.3,6.2,6.0,6.2,6.3,6.1,6.2,6.3,6.1,6.2,6.0,6.2,6.3,6.1,6.2,6.0,6.2,6.1,6.3,6.2,6.1,6.2,6.1];
const h32=[6.1,5.8,5.5,5.3,5.4,5.2,5.3,5.1,5.4,5.3,5.2,5.4,5.5,5.3,5.2,5.4,5.2,5.1,5.3,5.4,5.2,5.3,5.5,5.2,5.1,5.3,5.4,5.3,5.1,5.2,5.4,5.3,5.5,5.3,5.2,5.4,5.3,5.1,5.3,5.4,5.2,5.3,5.1,5.3,5.5,5.3,5.2,5.4,5.3,5.1,5.3,5.4,5.2,5.3,5.5,5.2,5.3,5.4,5.2,5.1,5.3,5.4,5.3,5.2,5.4,5.3,5.1,5.3,5.4,5.2,5.3,5.5,5.3,5.2,5.3,5.1,5.3,5.4,5.2,5.3,5.1,5.2,5.4,5.3,5.2,5.4,5.3,5.1,5.2,5.4,5.3,5.5,5.3,5.2,5.3,5.4,5.2,5.1,5.3,5.4,5.2,5.3,5.1,5.3,5.4,5.2,5.3,5.5,5.3,5.2,5.4,5.3,5.1,5.3,5.2,5.4,5.3,5.2,5.4,5.3,5.1,5.3,5.2,5.4,5.3,5.2,5.3,5.1,5.3,5.2,5.4,5.3,5.2,5.3,5.1,5.2,5.3,5.2,5.4,5.3,5.2,5.3,5.2,5.3,5.2,5.3];
const h33=[7.4,7.2,6.9,6.6,6.4,6.2,6.0,5.9,6.1,5.8,6.0,5.9,5.7,6.0,6.1,5.8,5.9,6.1,5.8,5.7,5.9,6.0,5.8,6.1,5.9,5.7,5.9,6.0,5.8,6.1,5.9,5.8,6.0,5.9,5.7,5.9,6.1,5.9,5.8,6.0,5.9,5.7,5.9,6.0,5.8,6.1,5.9,5.8,6.0,5.9,5.7,5.9,6.1,5.8,6.0,5.9,5.7,5.8,6.0,5.9,6.1,5.9,5.8,6.0,5.9,5.7,5.9,6.1,5.8,5.9,6.0,5.8,5.9,6.1,5.9,5.7,5.9,6.0,5.8,5.9,6.1,5.9,5.8,6.0,5.9,5.7,5.8,6.0,5.9,6.1,5.9,5.8,5.6,5.8,5.7,5.5,5.7,5.6,5.4,5.6,5.5,5.3,5.5,5.4,5.2,5.4,5.3,5.1,5.3,5.2,5.0,5.2,5.1,4.9,5.1,5.0,4.8,5.0,4.9,5.1,5.0,4.8,5.0,4.9,5.1,4.9,4.8,5.0,4.9,4.8,5.0,4.9,5.0,4.8,4.9,5.0,4.9];
const h34=[8.6,8.4,8.1,7.8,7.5,7.2,7.0,6.8,6.6,6.5,6.4,6.6,6.3,6.5,6.4,6.2,6.5,6.6,6.3,6.4,6.6,6.3,6.2,6.4,6.5,6.3,6.6,6.4,6.2,6.4,6.5,6.3,6.6,6.4,6.3,6.5,6.4,6.2,6.4,6.6,6.4,6.3,6.5,6.4,6.2,6.4,6.5,6.3,6.6,6.4,6.3,6.5,6.4,6.2,6.4,6.6,6.3,6.5,6.4,6.2,6.3,6.5,6.4,6.6,6.4,6.3,6.5,6.4,6.2,6.4,6.6,6.3,6.4,6.5,6.3,6.4,6.6,6.4,6.2,6.4,6.5,6.3,6.4,6.6,6.4,6.3,6.5,6.4,6.2,6.3,6.5,6.4,6.6,6.4,6.3,6.5,6.4,6.2,6.4,6.5,6.3,6.4,6.6,6.4,6.2,6.4,6.5,6.3,6.4,6.6,6.4,6.3,6.5,6.4,6.2,6.3,6.5,6.4,6.6,6.4,6.5,6.7,6.5,6.6,6.8,6.6,6.5,6.7,6.6,6.8,6.6,6.5,6.7,6.6,6.7,6.5,6.6,6.7,6.6];
const h35=[7.1,6.8,6.4,6.0,5.6,5.3,5.0,4.9,4.8,4.9,4.7,4.9,4.8,4.6,4.9,5.0,4.7,4.8,5.0,4.7,4.6,4.8,4.9,4.7,5.0,4.8,4.6,4.8,4.9,4.7,5.0,4.8,4.7,4.9,4.8,4.6,4.8,5.0,4.8,4.7,4.9,4.8,4.6,4.8,4.9,4.7,5.0,4.8,4.7,4.9,4.8,4.6,4.8,5.0,4.7,4.9,4.8,4.6,4.7,4.9,4.8,5.0,4.8,4.7,4.9,4.8,4.6,4.8,5.0,4.7,4.8,4.9,4.7,4.8,5.0,4.8,4.6,4.8,4.9,4.7,4.8,5.0,4.8,4.7,4.9,4.8,4.6,4.7,4.9,4.8,5.0,4.8,4.7,4.9,4.8,4.6,4.8,4.9,4.7,4.8,5.0,4.8,4.6,4.8,4.9,4.7,4.8,5.0,4.8,4.7,4.9,4.8,4.7,4.9,4.8,4.7,4.8,4.9,4.7,4.8,4.6,4.8,4.7];
const h36=[6.6,6.3,6.0,5.8,5.7,5.9,5.6,5.8,5.7,5.5,5.8,5.9,5.6,5.7,5.9,5.6,5.5,5.7,5.8,5.6,5.9,5.7,5.5,5.7,5.8,5.6,5.9,5.7,5.6,5.8,5.7,5.5,5.7,5.9,5.7,5.6,5.8,5.7,5.5,5.7,5.8,5.6,5.9,5.7,5.6,5.8,5.7,5.5,5.7,5.9,5.6,5.8,5.7,5.5,5.6,5.8,5.7,5.9,5.7,5.6,5.8,5.7,5.5,5.7,5.9,5.6,5.7,5.8,5.6,5.7,5.9,5.7,5.5,5.7,5.8,5.6,5.7,5.9,5.7,5.6,5.8,5.7,5.5,5.6,5.8,5.7,5.9,5.7,5.6,5.8,5.7,5.5,5.7,5.8,5.6,5.7,5.9,5.7,5.5,5.7,5.8,5.6,5.7,5.9,5.7,5.6,5.8,5.7,5.5,5.6,5.8,5.7,5.9,5.7,5.8,5.6,5.7,5.8,5.6,5.7];
const h37=[8.4,8.2,7.9,7.6,7.3,7.1,6.9,6.8,6.6,6.8,6.7,6.9,6.6,6.7,6.9,6.8,6.5,6.7,6.8,6.6,6.9,6.7,6.6,6.8,6.7,6.5,6.7,6.9,6.6,6.8,6.7,6.5,6.7,6.8,6.6,6.9,6.7,6.6,6.8,6.7,6.5,6.7,6.9,6.6,6.8,6.7,6.5,6.6,6.8,6.7,6.9,6.7,6.6,6.8,6.7,6.5,6.7,6.9,6.6,6.7,6.8,6.6,6.7,6.9,6.7,6.5,6.7,6.8,6.6,6.7,6.9,6.7,6.6,6.8,6.7,6.5,6.6,6.8,6.7,6.9,6.7,6.6,6.8,6.7,6.5,6.7,6.8,6.6,6.7,6.9,6.7,6.5,6.7,6.8,6.6,6.7,6.9,6.7,6.6,6.8,6.7,6.5,6.6,6.8,6.7,6.9,6.7,6.6,6.8,6.7,6.5,6.7,6.8,6.6,6.7,6.9,6.7,6.6,6.8,6.7,6.5,6.7,6.8,6.6,6.7,6.5,6.6,6.8,6.7,6.6,6.7,6.8,6.6,6.7,6.6,6.7,6.6];
const h38=[7.2,6.8,6.5,6.2,6.0,5.9,6.1,5.8,6.0,5.9,5.7,6.0,6.1,5.8,5.9,6.1,5.8,5.7,5.9,6.0,5.8,6.1,5.9,5.7,5.9,6.0,5.8,6.1,5.9,5.8,6.0,5.9,5.7,5.9,6.1,5.9,5.8,6.0,5.9,5.7,5.9,6.0,5.8,6.1,5.9,5.8,6.0,5.9,5.7,5.9,6.1,5.8,6.0,5.9,5.7,5.8,6.0,5.9,6.1,5.9,5.8,6.0,5.9,5.7,5.9,6.1,5.8,5.9,6.0,5.8,5.9,6.1,5.9,5.7,5.9,6.0,5.8,5.9,6.1,5.9,5.8,6.0,5.9,5.7,5.6,5.8,5.7,5.5,5.6,5.4,5.3,5.5,5.4,5.2,5.4,5.3,5.5,5.3,5.2,5.4,5.3,5.5,5.4,5.6,5.4,5.3,5.5,5.4,5.6,5.5,5.3,5.5,5.6,5.4,5.5,5.7,5.5,5.4,5.6,5.5,5.7,5.6,5.4,5.6,5.5,5.3,5.5,5.4,5.6,5.5,5.4,5.6,5.5,5.4,5.5,5.4];
const h39=[7.9,7.7,7.4,7.1,6.8,6.5,6.3,6.1,6.3,6.0,6.2,6.1,5.9,6.2,6.3,6.0,6.1,6.3,6.0,5.9,6.1,6.2,6.0,6.3,6.1,5.9,6.1,6.2,6.0,6.3,6.1,6.0,6.2,6.1,5.9,6.1,6.3,6.1,6.0,6.2,6.1,5.9,6.1,6.2,6.0,6.3,6.1,6.0,6.2,6.1,5.9,6.1,6.3,6.0,6.2,6.1,5.9,6.0,6.2,6.1,6.3,6.1,6.0,6.2,6.1,5.9,6.1,6.3,6.0,6.1,6.2,6.0,6.1,6.3,6.1,5.9,6.1,6.2,6.0,6.1,6.3,6.1,6.0,6.2,6.1,5.9,6.0,6.2,6.1,6.3,6.1,6.0,6.2,6.1,5.9,6.1,6.2,6.0,6.1,6.3,6.1,5.9,6.1,6.2,6.0,6.1,6.3,6.1,6.0,6.2,6.1,5.9,6.1,6.0,6.2,6.1,5.9,6.1,6.2,6.0,6.1];

const runs = [h00,h01,h02,h03,h04,h05,h06,h07,h08,h09,h10,h11,h12,h13,h14,h15,h16,h17,h18,h19,
              h20,h21,h22,h23,h24,h25,h26,h27,h28,h29,h30,h31,h32,h33,h34,h35,h36,h37,h38,h39];
const xTicks = [0,20,40,60,80,100,120,140,160];
const yTicks = [3,4,5,6,7,8,9,10];

const colorOrder = ['#0072BD','#D95319','#EDB120','#7E2F8E','#77AC30','#4DBEEE','#A2142F'];
const FONT = 'Liberation Serif, DejaVu Serif, serif';
const INK = '#262626';

const traces = runs.map((h, i) => ({
  type: 'scatter', mode: 'lines',
  x: h.map((_, j) => j + 1),
  y: h,
  line: {color: colorOrder[i % colorOrder.length], width: 1},
  hoverinfo: 'skip', showlegend: false
}));

const axisCommon = {
  showgrid: false, zeroline: false,
  showline: true, linecolor: INK, linewidth: 1, mirror: 'ticks',
  ticks: 'inside', ticklen: 5, tickwidth: 1, tickcolor: INK,
  tickfont: {family: FONT, size: 17.5, color: INK}
};

const layout = {
  width: 539, height: 457,
  paper_bgcolor: '#ffffff', plot_bgcolor: '#ffffff',
  margin: {l: 68, r: 1, t: 33, b: 54},
  title: {text: 'Dune height over time', font: {family: FONT, size: 22, color: '#000'},
          xref: 'paper', x: 0.486, xanchor: 'center', yref: 'container', y: 0.962, yanchor: 'middle'},
  xaxis: Object.assign({}, axisCommon, {
    range: [0, 168.6], tickmode: 'array', tickvals: xTicks, ticktext: xTicks.map(String),
    title: {text: 'Profile number', font: {family: FONT, size: 22.5, color: INK}, standoff: 5}
  }),
  yaxis: Object.assign({}, axisCommon, {
    range: [3, 10], tickmode: 'array', tickvals: yTicks, ticktext: yTicks.map(String),
    title: {text: 'Highest point of dune (cm)', font: {family: FONT, size: 22.5, color: INK}, standoff: 10}
  })
};

Plotly.newPlot('chart', traces, layout, {displayModeBar: false, staticPlot: true});
</script>
</body>
</html>
